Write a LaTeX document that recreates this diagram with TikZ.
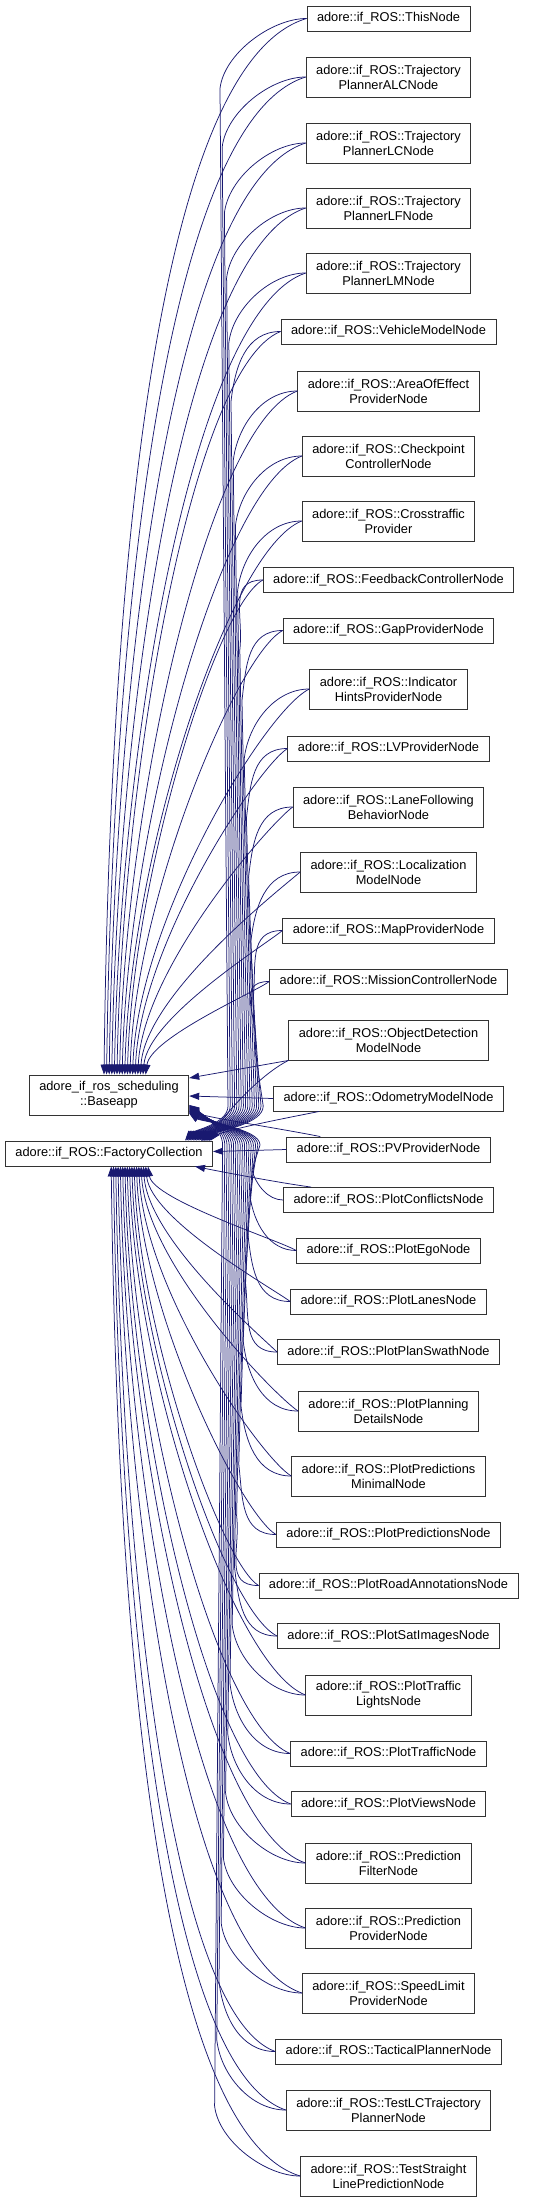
\documentclass[tikz,border=0pt]{standalone}
\usepackage{fontspec}
\setmainfont{Liberation Sans}
\usetikzlibrary{arrows.meta,calc}
\definecolor{edgeblue}{HTML}{191970}
\tikzset{
  box/.style={draw=black!80, fill=white, line width=0.9pt, inner xsep=10pt, inner ysep=2pt,
    minimum height=25pt, align=center, font=\fontsize{12.8}{15}\selectfont},
  box2/.style={box, minimum height=40pt},
  edge/.style={draw=edgeblue, line width=0.75pt, -{Triangle[length=10pt,width=7pt]}}
}
\begin{document}
\begin{tikzpicture}[x=1pt,y=-1pt]
\useasboundingbox (0,0) rectangle (540,2202);
% parents
\node[box2] (ba) at (109,1095) {adore\_if\_ros\_scheduling\\::Baseapp};
\node[box] (fa) at (109,1153.5) {adore::if\_ROS::FactoryCollection};
% children
\node[box]  (c1)  at (388.5,18.5)  {adore::if\_ROS::ThisNode};
\node[box2] (c2)  at (388.5,77)    {adore::if\_ROS::Trajectory\\PlannerALCNode};
\node[box2] (c3)  at (388.5,143)   {adore::if\_ROS::Trajectory\\PlannerLCNode};
\node[box2] (c4)  at (388.5,208)   {adore::if\_ROS::Trajectory\\PlannerLFNode};
\node[box2] (c5)  at (388.5,273)   {adore::if\_ROS::Trajectory\\PlannerLMNode};
\node[box]  (c6)  at (388.5,331.5) {adore::if\_ROS::VehicleModelNode};
\node[box2] (c7)  at (388.5,391)   {adore::if\_ROS::AreaOfEffect\\ProviderNode};
\node[box2] (c8)  at (388.5,456)   {adore::if\_ROS::Checkpoint\\ControllerNode};
\node[box2] (c9)  at (388.5,521)   {adore::if\_ROS::Crosstraffic\\Provider};
\node[box]  (c10) at (388.5,580)   {adore::if\_ROS::FeedbackControllerNode};
\node[box]  (c11) at (388.5,630.5) {adore::if\_ROS::GapProviderNode};
\node[box2] (c12) at (388.5,689)   {adore::if\_ROS::Indicator\\HintsProviderNode};
\node[box]  (c13) at (388.5,748.5) {adore::if\_ROS::LVProviderNode};
\node[box2] (c14) at (388.5,807)   {adore::if\_ROS::LaneFollowing\\BehaviorNode};
\node[box2] (c15) at (388.5,872)   {adore::if\_ROS::Localization\\ModelNode};
\node[box]  (c16) at (388.5,930.5) {adore::if\_ROS::MapProviderNode};
\node[box]  (c17) at (388.5,981.5) {adore::if\_ROS::MissionControllerNode};
\node[box2] (c18) at (388.5,1040)  {adore::if\_ROS::ObjectDetection\\ModelNode};
\node[box]  (c19) at (388.5,1098.5){adore::if\_ROS::OdometryModelNode};
\node[box]  (c20) at (388.5,1149.5){adore::if\_ROS::PVProviderNode};
\node[box]  (c21) at (388.5,1200)  {adore::if\_ROS::PlotConflictsNode};
\node[box]  (c22) at (388.5,1250.5){adore::if\_ROS::PlotEgoNode};
\node[box]  (c23) at (388.5,1301.5){adore::if\_ROS::PlotLanesNode};
\node[box]  (c24) at (388.5,1352)  {adore::if\_ROS::PlotPlanSwathNode};
\node[box2] (c25) at (388.5,1411)  {adore::if\_ROS::PlotPlanning\\DetailsNode};
\node[box2] (c26) at (388.5,1476)  {adore::if\_ROS::PlotPredictions\\MinimalNode};
\node[box]  (c27) at (388.5,1534.5){adore::if\_ROS::PlotPredictionsNode};
\node[box]  (c28) at (388.5,1585.5){adore::if\_ROS::PlotRoadAnnotationsNode};
\node[box]  (c29) at (388.5,1636)  {adore::if\_ROS::PlotSatImagesNode};
\node[box2] (c30) at (388.5,1695)  {adore::if\_ROS::PlotTraffic\\LightsNode};
\node[box]  (c31) at (388.5,1753.5){adore::if\_ROS::PlotTrafficNode};
\node[box]  (c32) at (388.5,1804)  {adore::if\_ROS::PlotViewsNode};
\node[box2] (c33) at (388.5,1863)  {adore::if\_ROS::Prediction\\FilterNode};
\node[box2] (c34) at (388.5,1928)  {adore::if\_ROS::Prediction\\ProviderNode};
\node[box2] (c35) at (388.5,1993)  {adore::if\_ROS::SpeedLimit\\ProviderNode};
\node[box]  (c36) at (388.5,2051.5){adore::if\_ROS::TacticalPlannerNode};
\node[box2] (c37) at (388.5,2110)  {adore::if\_ROS::TestLCTrajectory\\PlannerNode};
\node[box2] (c38) at (388.5,2176)  {adore::if\_ROS::TestStraight\\LinePredictionNode};
% upper children: fan to Baseapp, bundle to FactoryCollection
\foreach \i/\yc/\xl in {1/18.5/306,2/77/306,3/143/306,4/208/306,5/273/306,6/331.5/281,7/391/297,8/456/302,9/521/300,10/580/264,11/630.5/284,12/689/309,13/748.5/288,14/807/293,15/872/300,16/930.5/283,17/981.5/269}{
  \pgfmathsetmacro{\cdy}{1075-\yc}
  \pgfmathsetmacro{\tx}{104+2.6*(\i-1)}
  \pgfmathsetmacro{\ff}{max(0.1,0.8-0.05*(\i-1))}
  \pgfmathsetmacro{\pax}{\xl-\ff*(\xl-\tx)}
  \pgfmathsetmacro{\pay}{\yc+0.04*\cdy+6}
  \pgfmathsetmacro{\pby}{1075-0.4*\cdy}
  \pgfmathsetmacro{\cdx}{\tx-109}
  \draw[edge] (c\i.west) .. controls (\pax,\pay) and (\tx+5,\pby) .. ($(ba.north)+(\cdx,0)$);
  \pgfmathsetmacro{\bx}{220+2.2*(\i-1)}
  \pgfmathsetmacro{\fdx}{76+1.6*(\i-1)}
  \pgfmathsetmacro{\kk}{min(35,(1141-\yc)/4)}
  \draw[edge] (c\i.west) .. controls +(-\kk,0) and (\bx+4,\yc+\kk) .. (\bx,\yc+2*\kk) -- (\bx+8,1106)
     .. controls (\bx+8,1124) and ($(fa.north)+(\fdx+8,-10)$) .. ($(fa.north)+(\fdx,0)$);
}
% special middle children
\draw[edge] (c18.south west) -- ($(ba.east)+(0,-17)$);
\draw[edge] (c18.south west) .. controls +(-30,15) and +(12,-22) .. ($(fa.north east)+(-4,0)$);
\draw[edge] (c19.west) -- ($(ba.east)+(0,1)$);
\draw[edge] ($(c19.south west)+(46,0)$) .. controls +(-40,8) and +(30,-12) .. ($(fa.north east)+(-12,0)$);
\draw[edge] (c20.west) -- ($(fa.east)+(0,-2)$);
\draw[edge] ($(c20.north west)+(34,0)$) .. controls +(-40,-8) and +(30,8) .. ($(ba.south east)+(0,-4)$);
\draw[edge] ($(c21.north west)+(28,0)$) .. controls +(-30,-4) and +(30,6) .. ($(fa.south east)+(-18,0)$);
% lower children: bundle to Baseapp
\foreach \i/\yc in {21/1200,22/1250.5,23/1301.5,24/1352,25/1411,26/1476,27/1534.5,28/1585.5,29/1636,30/1695,31/1753.5,32/1804,33/1863,34/1928,35/1993,36/2051.5,37/2110,38/2176}{
  \pgfmathsetmacro{\bx}{252-2.2*(\i-21)}
  \pgfmathsetmacro{\kk}{min(35,(\yc-1140)/4)}
  \pgfmathsetmacro{\ey}{2+0.5*(\i-21)}
  \draw[edge] (c\i.west) .. controls +(-\kk,0) and (\bx+4,\yc-\kk) .. (\bx,\yc-2*\kk) -- (\bx+8,1145)
     .. controls (\bx+8,1128) and ($(ba.south east)+(12,8-\ey)$) .. ($(ba.south east)+(0,-\ey)$);
}
% lower children: fan to FactoryCollection
\foreach \i/\yc/\xl in {22/1250.5/296,23/1301.5/290,24/1352/277,25/1411/298,26/1476/291,27/1534.5/276,28/1585.5/259,29/1636/277,30/1695/304,31/1753.5/289,32/1804/290,33/1863/306,34/1928/306,35/1993/302,36/2051.5/275,37/2110/285,38/2176/300}{
  \pgfmathsetmacro{\cdy}{\yc-1166}
  \pgfmathsetmacro{\tx}{148-2.3*(\i-22)}
  \pgfmathsetmacro{\ff}{max(0.1,0.8-0.05*(38-\i))}
  \pgfmathsetmacro{\pax}{\xl-\ff*(\xl-\tx)}
  \pgfmathsetmacro{\pay}{\yc-0.04*\cdy-6}
  \pgfmathsetmacro{\pby}{1166+0.4*\cdy}
  \pgfmathsetmacro{\cdx}{\tx-109}
  \draw[edge] (c\i.west) .. controls (\pax,\pay) and (\tx+5,\pby) .. ($(fa.south)+(\cdx,0)$);
}
\end{tikzpicture}
\end{document}
